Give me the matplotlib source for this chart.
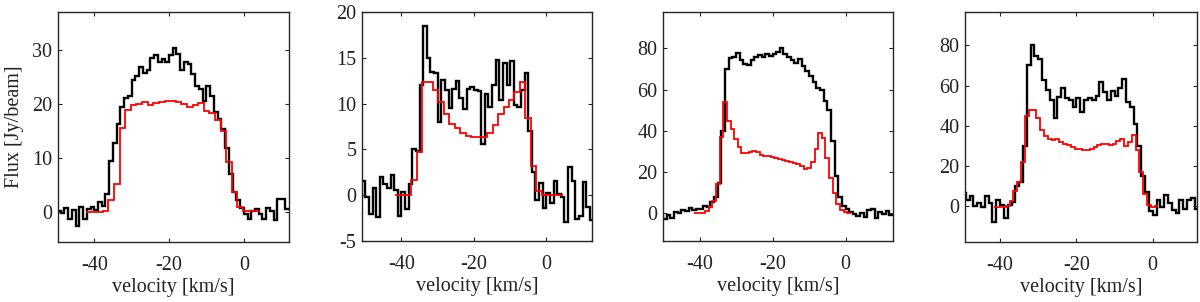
import numpy as np
import matplotlib
matplotlib.use("Agg")
import matplotlib.pyplot as plt

plt.rcParams['font.family'] = ['Liberation Serif', 'DejaVu Serif']
plt.rcParams['axes.unicode_minus'] = False

# ---------------- data ----------------
# black: observed spectra, 1 km/s channels (edges)
obs1_edges = np.arange(-50.0, 12.01, 1.0)
obs1 = [0.3, -0.2, 0.7, -1.2, 0.4, -2.5, 0.9, -1.2, 0.6, 1.0,
        0.5, 1.8, 1.2, 3.3, 9.5, 12.8, 16.3, 19.5, 21.2, 21.5,
        24.5, 25.2, 26.8, 25.8, 26.3, 28.5, 29.0, 27.8, 28.3, 27.8,
        29.0, 30.3, 29.2, 26.3, 27.8, 27.3, 25.5, 23.3, 22.8, 20.5,
        23.3, 21.5, 18.5, 17.2, 15.3, 11.8, 7.0, 3.8, 2.2, 0.8,
        -0.3, -1.3, 0.2, 0.6, -0.3, -1.3, 0.7, 0.3, -1.4, 2.4,
        2.5, 0.6]

obs_edges = np.arange(-51.0, 13.01, 1.0)
obs2 = [1.5, -0.2, -2.0, 0.8, -2.4, 2.0, 1.2, 0.8, 2.2, 0.6,
        -2.3, 0.3, -1.5, 1.2, 5.0, 4.8, 12.0, 18.5, 15.0, 13.4,
        13.3, 8.0, 12.6, 11.5, 9.5, 11.6, 12.5, 10.6, 9.4, 11.6,
        11.8, 11.5, 11.4, 5.6, 11.0, 9.6, 12.0, 14.8, 10.4, 14.4,
        12.0, 14.6, 9.8, 9.6, 11.5, 13.3, 7.0, 2.5, -0.5, 1.3,
        -1.4, 0.2, -0.9, 1.6, 0.1, -0.2, -2.9, 3.1, 1.5, -2.6,
        -2.3, 1.4, -1.3, -2.7]
obs3 = [-1.5, -3.0, -1.0, -2.5, 0.5, 0.3, 1.6, 1.2, 2.4, 1.5,
        1.8, 2.2, 3.6, 2.8, 5.5, 8.0, 14.5, 40.0, 70.0, 75.5,
        76.0, 78.0, 74.5, 72.5, 72.0, 74.5, 75.8, 76.7, 76.0, 77.5,
        76.5, 77.5, 78.4, 80.0, 77.5, 76.0, 74.3, 72.7, 75.0, 71.5,
        69.0, 66.5, 63.5, 61.0, 60.0, 54.5, 50.0, 35.0, 18.0, 8.0,
        3.5, 1.8, 0.8, -0.5, -1.5, 0.2, -1.8, 1.6, 2.2, -2.2,
        0.5, -0.5, 1.0, -0.8]
obs4 = [6.0, 6.5, 3.3, 5.0, 0.0, 1.7, -0.5, 5.0, 1.5, -8.0,
        3.3, 0.8, -5.8, 0.8, 2.0, 10.0, 12.0, 30.0, 70.0, 80.0,
        74.5, 73.0, 62.5, 58.0, 53.0, 44.0, 54.5, 58.6, 53.6, 52.8,
        49.5, 53.6, 47.0, 52.8, 53.6, 53.0, 55.0, 61.9, 56.9, 52.8,
        57.5, 55.0, 58.6, 63.0, 52.0, 49.5, 41.0, 30.0, 15.0, 7.0,
        -2.5, -4.5, 3.0, -0.5, 5.5, 1.7, -1.6, -3.3, 3.3, -1.5,
        3.0, 4.0, -1.5, 1.5]

# red: model spectra
mod1_edges = np.arange(-42.2, 4.31, 1.5)
mod1 = [0.0, 0.0, 0.0, 0.2, 2.2, 5.2, 15.5, 18.8, 19.9, 20.0,
        20.3, 19.9, 20.1, 20.4, 20.6, 20.5, 20.3, 20.0, 19.5, 19.8,
        20.2, 18.7, 18.3, 17.1, 15.0, 9.3, 3.8, 1.0, 0.3, 0.2, 0.3]
mod2_edges = np.arange(-41.8, 4.71, 1.5)
mod2 = [0.0, 0.0, 0.0, 1.7, 4.7, 12.4, 12.4, 11.5, 10.2, 8.9,
        7.8, 7.3, 6.8, 6.5, 6.3, 6.3, 6.4, 6.8, 7.7, 8.9,
        9.6, 10.4, 11.3, 12.4, 8.4, 3.2, 0.5, 0.0, 0.0, 0.0, 0.0]
mod_edges = np.arange(-41.5, 1.51, 1.0)
mod3 = [0.0, 0.0, 0.0, 1.0, 3.0, 6.0, 14.0, 37.0, 54.0, 45.0,
        41.0, 36.0, 32.0, 29.0, 29.0, 29.5, 30.2, 29.5, 28.5, 28.0,
        27.8, 27.5, 27.0, 26.4, 25.8, 25.5, 25.0, 24.5, 23.8, 23.0,
        21.5, 21.8, 25.0, 31.0, 38.8, 36.5, 27.0, 17.0, 10.0, 4.5,
        1.6, 0.5, 0.0]
mod4 = [-0.5, -0.5, -0.3, 0.0, 2.5, 7.5, 12.0, 22.0, 45.0, 48.0,
        48.0, 44.0, 38.0, 35.0, 33.5, 33.0, 33.2, 32.0, 31.0, 30.3,
        29.5, 28.6, 28.4, 28.2, 28.0, 28.6, 29.5, 30.5, 31.2, 30.8,
        30.6, 31.0, 32.5, 33.5, 30.0, 32.0, 35.5, 28.0, 17.0, 6.0,
        0.8, -0.3, 0.0]

panels = [
    (obs1_edges, obs1, mod1_edges, mod1),
    (obs_edges, obs2, mod2_edges, mod2),
    (obs_edges, obs3, mod_edges, mod3),
    (obs_edges, obs4, mod_edges, mod4),
]
yticks = [[0, 10, 20, 30], [-5, 0, 5, 10, 15, 20],
          [0, 20, 40, 60, 80], [0, 20, 40, 60, 80]]
ylims = [(-5.5, 37.0), (-5.0, 20.0), (-13.5, 97.7), (-17.7, 96.5)]
xlims = [(-49.7, 12.1), (-50.9, 12.6), (-50.0, 13.0), (-49.2, 11.6)]
xticks = [-40, -20, 0]

# ---------------- layout ----------------
W, H = 1200, 302
boxes = [(58, 289, 12, 242), (362, 592, 12, 241),
         (663, 893, 12, 241), (965, 1197, 12, 242)]

fig = plt.figure(figsize=(W / 100, H / 100), dpi=100)
edge_col = '#262626'
fs = 14.5
for i, ((oe, ov, me, mv), (l, r, t, b)) in enumerate(zip(panels, boxes)):
    ax = fig.add_axes([l / W, 1 - b / H, (r - l) / W, (b - t) / H])
    ax.stairs(ov, oe, baseline=None, color='black', lw=1.7)
    ax.stairs(mv, me, baseline=None, color='#ff0000', lw=1.3)
    ax.set_xlim(*xlims[i])
    ax.set_ylim(*ylims[i])
    ax.set_xticks(xticks)
    ax.set_yticks(yticks[i])
    ax.tick_params(direction='in', length=3, width=0.8, top=True, right=True,
                   labelsize=fs, colors=edge_col, labelcolor='#222222')
    ax.tick_params(axis='x', pad=10)
    ax.tick_params(axis='y', pad=4)
    for s in ax.spines.values():
        s.set_linewidth(1.0)
        s.set_color(edge_col)
    ax.set_xlabel('velocity [km/s]', fontsize=fs, color='#222222', labelpad=2)
    if i == 0:
        ax.set_ylabel('Flux [Jy/beam]', fontsize=fs, color='#222222', labelpad=6)

fig.savefig('out.png', dpi=100)
